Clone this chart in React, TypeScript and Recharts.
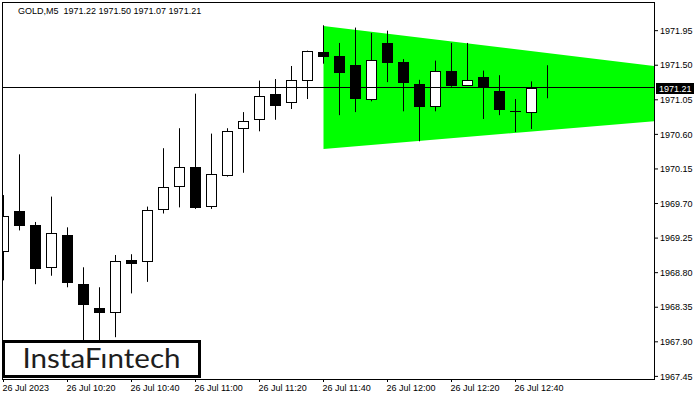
import React from "react";
import {
  ComposedChart,
  Bar,
  Area,
  XAxis,
  YAxis,
  ReferenceLine,
} from "recharts";

// 5-minute GOLD candles, 26 Jul 2023 10:00 .. 12:50
const opens = [
  1969.07, 1969.6, 1969.42, 1968.86, 1969.29, 1968.65, 1968.34, 1968.27, 1968.96, 1968.94,
  1969.61, 1969.91, 1970.17, 1969.65, 1970.06, 1970.67, 1970.79, 1971.12, 1971.01, 1971.29,
  1971.67, 1971.62, 1971.5, 1971.05, 1971.79, 1971.54, 1971.26, 1970.95, 1971.42, 1971.23,
  1971.35, 1971.16, 1970.91, 1970.88, 1971.22,
];
const highs = [
  1969.81, 1970.34, 1969.46, 1969.79, 1969.39, 1968.87, 1968.61, 1969.03, 1969.04, 1969.66,
  1970.42, 1970.68, 1971.13, 1970.61, 1970.68, 1970.89, 1971.3, 1971.32, 1971.49, 1971.69,
  1972.02, 1971.79, 1971.99, 1971.92, 1971.95, 1971.58, 1971.31, 1971.56, 1971.79, 1971.79,
  1971.43, 1971.37, 1971.06, 1971.29, 1971.5,
];
const lows = [
  1968.7, 1969.35, 1968.65, 1968.76, 1968.61, 1967.85, 1967.88, 1967.96, 1968.53, 1968.68,
  1969.57, 1969.65, 1969.63, 1969.63, 1970.05, 1970.1, 1970.64, 1970.79, 1970.93, 1971.06,
  1971.52, 1970.85, 1970.89, 1971.03, 1971.28, 1970.9, 1970.51, 1970.9, 1971.22, 1971.23,
  1970.8, 1970.85, 1970.63, 1970.67, 1971.07,
];
const closes = [
  1969.54, 1969.41, 1968.85, 1969.32, 1968.66, 1968.38, 1968.27, 1968.95, 1968.91, 1969.62,
  1969.91, 1970.17, 1969.64, 1970.09, 1970.65, 1970.78, 1971.1, 1970.97, 1971.31, 1971.68,
  1971.61, 1971.4, 1971.06, 1971.57, 1971.53, 1971.27, 1970.96, 1971.43, 1971.23, 1971.31,
  1971.21, 1970.92, 1970.89, 1971.21, 1971.21,
];

// symmetrical triangle (pennant) corners
const triX = [20, 40.656];
const triTop = [1972.01, 1971.49];
const triBottom = [1970.41, 1970.77];

const lastPrice = 1971.21;

const yTicks = [
  1967.45, 1967.9, 1968.35, 1968.8, 1969.25, 1969.7, 1970.15, 1970.6, 1971.05, 1971.5, 1971.95,
];
const xTicks = [0, 4, 8, 12, 16, 20, 24, 28, 32];
const xTickLabels = [
  "26 Jul 2023",
  "26 Jul 10:20",
  "26 Jul 10:40",
  "26 Jul 11:00",
  "26 Jul 11:20",
  "26 Jul 11:40",
  "26 Jul 12:00",
  "26 Jul 12:20",
  "26 Jul 12:40",
];

const FONT = "'Liberation Sans', Arial, sans-serif";

type Row = {
  x: number;
  range?: [number, number];
  open?: number;
  high?: number;
  low?: number;
  close?: number;
  tri?: [number, number];
};

const rows: Row[] = opens.map((o, i) => ({
  x: i,
  range: [lows[i], highs[i]],
  open: o,
  high: highs[i],
  low: lows[i],
  close: closes[i],
}));
triX.forEach((tx, k) => {
  const r = rows.find((row) => row.x === tx);
  if (r) r.tri = [triBottom[k], triTop[k]];
  else rows.push({ x: tx, tri: [triBottom[k], triTop[k]] });
});

function Candle(props: any) {
  const { x, y, width, height, payload } = props;
  if (payload == null || payload.open == null) return null;
  const { open, close, high, low } = payload;
  const top = Math.min(y, y + height);
  const h = Math.abs(height);
  const span = high - low || 1;
  const toY = (v: number) => top + ((high - v) / span) * h;
  const cx = Math.floor(x + width / 2) + 0.5;
  const bTop = Math.round(toY(Math.max(open, close)));
  const bBot = Math.max(Math.round(toY(Math.min(open, close))), bTop + 1);
  const up = close > open;
  const left = cx - 5.5;
  return (
    <g>
      <line x1={cx} x2={cx} y1={top} y2={top + h} stroke="#000" strokeWidth={1} />
      {up ? (
        <rect x={left + 0.5} y={bTop + 0.5} width={10} height={bBot - bTop - 1 || 1} fill="#fff" stroke="#000" strokeWidth={1} />
      ) : (
        <rect x={left} y={bTop} width={11} height={bBot - bTop} fill="#000" />
      )}
    </g>
  );
}

function XTick(props: any) {
  const { x, y, payload } = props;
  const idx = xTicks.indexOf(payload.value);
  return (
    <text x={x - 1} y={y} dy="0.71em" textAnchor="start" fontSize={9} fontFamily={FONT} fill="#000">
      {xTickLabels[idx]}
    </text>
  );
}

function PriceTag(props: any) {
  const vb = props.viewBox;
  if (!vb) return null;
  const tx = vb.x + vb.width + 2;
  const ty = Math.round(vb.y);
  return (
    <g>
      <rect x={tx} y={ty - 5} width={38} height={11} fill="#000" />
      <text x={tx + 3} y={ty + 4} fontSize={9} fontFamily={FONT} fill="#fff">
        {lastPrice.toFixed(2)}
      </text>
    </g>
  );
}

export default function App() {
  return (
    <div style={{ position: "absolute", left: 0, top: 0, width: 700, height: 400, background: "#fff" }}>
      <ComposedChart
        width={700}
        height={400}
        data={rows}
        margin={{ top: 2, right: 0, left: 2, bottom: 0 }}
      >
        <XAxis
          dataKey="x"
          type="number"
          domain={[-0.09375, 40.65625]}
          allowDataOverflow
          ticks={xTicks}
          interval={0}
          tick={<XTick />}
          tickSize={3}
          tickMargin={3}
          tickLine={{ stroke: "#000" }}
          axisLine={false}
          height={21}
        />
        <YAxis
          orientation="right"
          type="number"
          domain={[1967.416, 1972.323]}
          allowDataOverflow
          ticks={yTicks}
          interval={0}
          tickFormatter={(v: number) => v.toFixed(2)}
          tick={{ fontSize: 9, fill: "#000", fontFamily: FONT }}
          tickSize={4}
          tickMargin={2}
          tickLine={{ stroke: "#000" }}
          axisLine={false}
          width={46}
        />
        <Area
          dataKey="tri"
          type="linear"
          connectNulls
          fill="#00ff00"
          fillOpacity={1}
          stroke="none"
          isAnimationActive={false}
          dot={false}
          activeDot={false}
        />
        <ReferenceLine
          y={lastPrice}
          stroke="#000"
          strokeWidth={1}
          label={(p: any) => <PriceTag {...p} />}
        />
        <Bar dataKey="range" barSize={11} shape={(p: any) => <Candle {...p} />} isAnimationActive={false} />
      </ComposedChart>
      <svg
        width={700}
        height={400}
        style={{ position: "absolute", left: 0, top: 0, pointerEvents: "none" }}
      >
        <rect x={2.5} y={2.5} width={652} height={377} fill="none" stroke="#000" strokeWidth={1} />
        <text x={18} y={14} fontSize={9} fontFamily={FONT} fill="#000" xmlSpace="preserve">
          GOLD,M5  1971.22 1971.50 1971.07 1971.21
        </text>
        <rect x={3.5} y={341.5} width={196} height={35} fill="#fff" stroke="#000" strokeWidth={3} />
        <text
          x={22.5}
          y={368}
          fontSize={26}
          fontFamily="Lato, 'Open Sans', sans-serif"
          fill="#1e1e1e"
          textLength={158}
          lengthAdjust="spacingAndGlyphs"
        >
          InstaFıntech
        </text>
      </svg>
    </div>
  );
}
